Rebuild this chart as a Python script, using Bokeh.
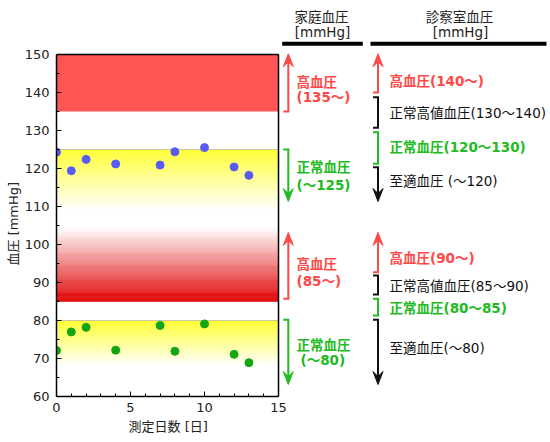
import numpy as np
from bokeh.plotting import figure
from bokeh.models import Range1d, FixedTicker, Title
from bokeh.core.properties import value
from bokeh.embed import file_html
from bokeh.resources import INLINE

# ---------------- data ----------------
days = [0, 1, 2, 4, 7, 8, 10, 12, 13]
systolic = [124.3, 119.4, 122.4, 121.2, 120.9, 124.4, 125.5, 120.4, 118.2]
diastolic = [72.1, 77.0, 78.2, 72.2, 78.7, 71.9, 79.1, 71.1, 68.9]

x_ticks = [0, 5, 10, 15]
y_ticks = [60, 70, 80, 90, 100, 110, 120, 130, 140, 150]

# reference bands (mmHg)
solid_band_bottom = [135]
solid_band_top = [150]
grad_start = [125, 85, 80]      # saturated edge
grad_end = [109, 104.6, 68]     # fades to white here
grad_colors = [(255, 255, 48), (224, 0, 0), (255, 255, 48)]
edge_lines = [125, 80]

home_header = ["家庭血圧", "[mmHg]"]
clinic_header = ["診察室血圧", "[mmHg]"]
home_sys = [["高血圧", "(135～)"], ["正常血圧", "(～125)"]]
home_dia = [["高血圧", "(85～)"], ["正常血圧", "(～80)"]]
clinic_sys = ["高血圧(140～)", "正常高値血圧(130～140)", "正常血圧(120～130)", "至適血圧 (～120)"]
clinic_dia = ["高血圧(90～)", "正常高値血圧(85～90)", "正常血圧(80～85)", "至適血圧(～80)"]

RED = "#FF4848"
GREEN = "#22BB22"
BLACK = "#111111"
JP = "DejaVu Sans, Noto Sans CJK JP"
FS = "13.5px"

# ---------------- geometry (page pixels) ----------------
W, H = 550, 440
PL, PR = 56, 278        # x=0 and x=15
PT, PB = 54, 396        # y=150 and y=60
X_LO, X_HI = x_ticks[0], x_ticks[-1]
Y_LO, Y_HI = y_ticks[0], y_ticks[-1]


def gx(px):
    return X_LO + (px - PL) / (PR - PL) * (X_HI - X_LO)


def dy(py):
    return Y_HI - (py - PT) / (PB - PT) * (Y_HI - Y_LO)


UPX = (Y_HI - Y_LO) / (PB - PT)

p = figure(width=W, height=H, title=None,
           x_range=Range1d(X_LO, gx(W)), y_range=Range1d(Y_LO, dy(0)),
           output_backend="svg", toolbar_location=None,
           min_border_left=PL, min_border_right=0,
           min_border_top=0, min_border_bottom=H - PB)
p.xgrid.visible = False
p.ygrid.visible = False
p.outline_line_color = None

# bands
p.quad(left=X_LO, right=X_HI, bottom=solid_band_bottom, top=solid_band_top,
       fill_color="#FF5555", line_color=None)

n = 80
for s, e, c in zip(grad_start, grad_end, grad_colors):
    t = np.linspace(0, 1, n + 1)
    ys = s + (e - s) * t
    bottoms = np.minimum(ys[:-1], ys[1:])
    tops = np.maximum(ys[:-1], ys[1:])
    tm = (t[:-1] + t[1:]) / 2
    cols = ["#%02x%02x%02x" % tuple(int(round(ch + (255 - ch) * f)) for ch in c) for f in tm]
    p.quad(left=X_LO, right=X_HI, bottom=bottoms, top=tops, fill_color=cols,
           line_color=cols, line_width=0.5)

p.segment(x0=[X_LO] * len(edge_lines), y0=edge_lines, x1=[X_HI] * len(edge_lines),
          y1=edge_lines, line_color="#C8C8A0", line_width=1)

# top and right border of the chart box
p.segment(x0=[X_LO, X_HI], y0=[Y_HI, Y_LO], x1=[X_HI, X_HI], y1=[Y_HI, Y_HI],
          line_color="black", line_width=1.5)

p.scatter(days, systolic, size=8, fill_color="#5A5AF5", line_color="#5A5AF5")
p.scatter(days, diastolic, size=8, fill_color="#13A613", line_color="#13A613")

# axes
p.xaxis.ticker = FixedTicker(ticks=x_ticks, minor_ticks=[i for i in range(X_LO, X_HI + 1) if i % 5])
p.yaxis.ticker = FixedTicker(ticks=y_ticks, minor_ticks=[v + 5 for v in y_ticks[:-1]])
p.xaxis.bounds = (X_LO, X_HI)
p.yaxis.bounds = (Y_LO, Y_HI)
for ax in (p.xaxis, p.yaxis):
    ax.axis_line_width = 1.5
    ax.axis_line_color = "black"
    ax.major_tick_in = 5
    ax.major_tick_out = 0
    ax.minor_tick_in = 3
    ax.minor_tick_out = 0
    ax.major_tick_line_color = "black"
    ax.minor_tick_line_color = "black"
    ax.major_label_text_font = "DejaVu Sans"
    ax.major_label_text_font_size = "13px"
    ax.major_label_text_color = "#222222"
p.xaxis.major_label_standoff = 6
p.yaxis.major_label_standoff = 7

# axis titles (positioned along the chart box, not the whole frame)
p.add_layout(Title(text="測定日数 [日]", align="left", offset=72, text_font=JP,
                   text_font_size="13px", text_font_style="normal", text_color="#222222",
                   standoff=4), "below")
p.add_layout(Title(text="血圧 [mmHg]", align="left", offset=396 - 265, text_font=JP,
                   text_font_size="13px", text_font_style="normal", text_color="#222222",
                   standoff=2), "left")

# ---------------- annotations ----------------
segs = dict(x0=[], y0=[], x1=[], y1=[], c=[])
heads = dict(xs=[], ys=[], c=[])


def seg(x0, y0, x1, y1, color):
    segs["x0"].append(gx(x0)); segs["y0"].append(y0)
    segs["x1"].append(gx(x1)); segs["y1"].append(y1)
    segs["c"].append(color)


def tick(x, y, color):
    seg(x - 5, y, x + 1, y, color)


def bracket(x, y_a, y_b, color):
    tick(x, y_a, color)
    seg(x, y_a, x, y_b, color)
    tick(x, y_b, color)


def arrow(x, y_from, y_tip, color):
    d = 1 if y_tip > y_from else -1
    tick(x, y_from, color)
    seg(x, y_from, x, y_tip - d * 6 * UPX, color)
    heads["xs"].append([gx(x), gx(x - 5), gx(x), gx(x + 5)])
    heads["ys"].append([y_tip, y_tip - d * 13 * UPX, y_tip - d * 8 * UPX, y_tip - d * 13 * UPX])
    heads["c"].append(color)


def text(x, y, s, color, bold=False, align="left"):
    p.text(x=[gx(x)], y=[y], text=[s], text_font=value(JP), text_font_size=FS,
           text_font_style="bold" if bold else "normal", text_color=color,
           text_align=align, text_baseline="middle")


# headers
text(321, dy(16.7), home_header[0], "#222222", align="center")
text(322, dy(31.7), home_header[1], "#222222", align="center")
text(459, dy(16.7), clinic_header[0], "#222222", align="center")
text(460, dy(31.7), clinic_header[1], "#222222", align="center")
p.segment(x0=[gx(281.7), gx(370)], y0=[dy(43.3)] * 2, x1=[gx(362.3), gx(546)],
          y1=[dy(43.3)] * 2, line_color="black", line_width=4, line_cap="butt")

HX, CX = 287.8, 377.5
HT, CT = 296, 389

# home systolic
arrow(HX, 135, 150.2, RED)
text(HT, dy(81), home_sys[0][0], RED, True)
text(HT, dy(96), home_sys[0][1], RED, True)
arrow(HX, 125, dy(201), GREEN)
text(HT, dy(166.7), home_sys[1][0], GREEN, True)
text(HT, dy(184.3), home_sys[1][1], GREEN, True)

# clinic systolic
arrow(CX, 140, 150.2, RED)
text(CT, dy(80), clinic_sys[0], RED, True)
bracket(CX, dy(96.7), dy(127.3), BLACK)
text(CT, dy(112.3), clinic_sys[1], BLACK)
bracket(CX, dy(131.7), dy(163.3), GREEN)
text(CT, dy(146.7), clinic_sys[2], GREEN, True)
arrow(CX, dy(166.7), dy(201), BLACK)
text(CT, dy(180), clinic_sys[3], BLACK)

# home diastolic
arrow(HX, dy(298.3), dy(232), RED)
text(HT, dy(263.3), home_dia[0][0], RED, True)
text(HT, dy(280), home_dia[0][1], RED, True)
arrow(HX, dy(319.3), dy(384), GREEN)
text(HT, dy(344), home_dia[1][0], GREEN, True)
text(300, dy(359.3), home_dia[1][1], GREEN, True)

# clinic diastolic
arrow(CX, dy(271.7), dy(232), RED)
text(CT, dy(257.3), clinic_dia[0], RED, True)
bracket(CX, dy(275), dy(294), BLACK)
text(CT, dy(285), clinic_dia[1], BLACK)
bracket(CX, dy(298.3), dy(315), GREEN)
text(CT, dy(307.3), clinic_dia[2], GREEN, True)
arrow(CX, dy(319.3), dy(384), BLACK)
text(CT, dy(347.3), clinic_dia[3], BLACK)

p.segment(x0="x0", y0="y0", x1="x1", y1="y1", line_color="c", line_width=2, source=segs)
p.patches(xs="xs", ys="ys", fill_color="c", line_color="c", line_width=1, source=heads)

open("out.html", "w").write(file_html(p, INLINE))
